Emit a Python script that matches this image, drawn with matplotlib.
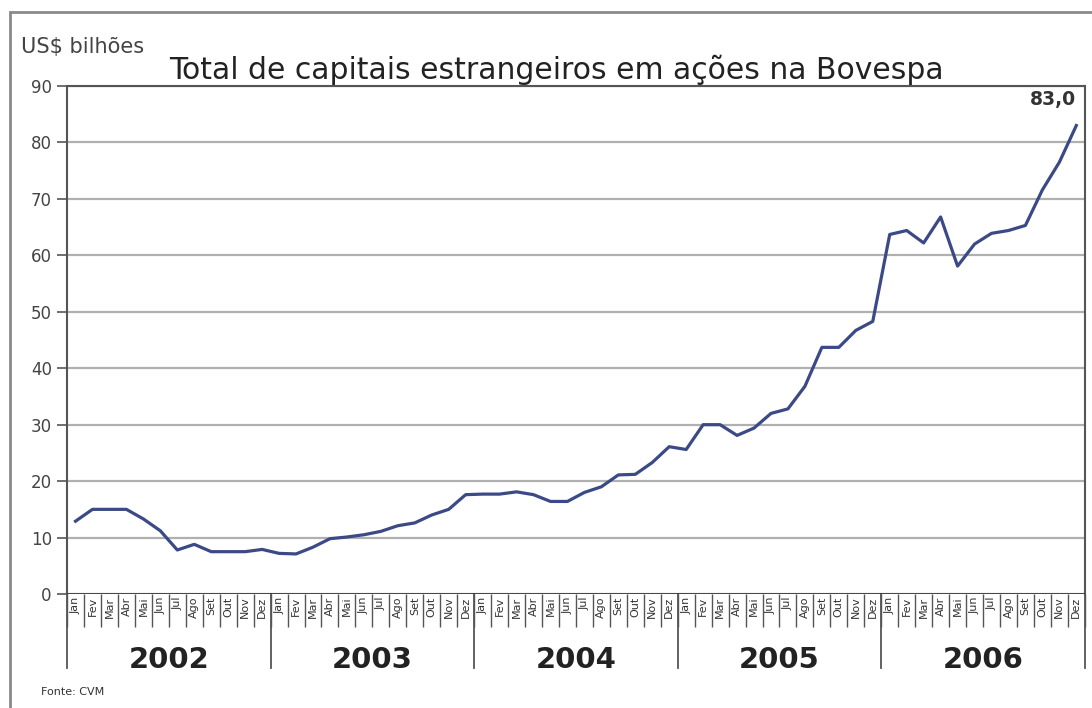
import matplotlib
matplotlib.use("Agg")
import matplotlib.pyplot as plt
import matplotlib.transforms as mtransforms
import numpy as np

years = ["2002", "2003", "2004", "2005", "2006"]
months = ["Jan", "Fev", "Mar", "Abr", "Mai", "Jun", "Jul", "Ago", "Set", "Out", "Nov", "Dez"]

v2002 = [12.9, 15.0, 15.0, 15.0, 13.3, 11.2, 7.8, 8.8, 7.5, 7.5, 7.5, 7.9]
v2003 = [7.2, 7.1, 8.3, 9.8, 10.1, 10.5, 11.1, 12.1, 12.6, 14.0, 15.0, 17.6]
v2004 = [17.7, 17.7, 18.1, 17.6, 16.4, 16.4, 18.0, 19.0, 21.1, 21.2, 23.3, 26.1]
v2005 = [25.6, 30.0, 30.0, 28.1, 29.4, 32.0, 32.8, 36.8, 43.7, 43.7, 46.7, 48.3]
v2006 = [63.7, 64.4, 62.2, 66.8, 58.1, 62.0, 63.9, 64.4, 65.3, 71.6, 76.5, 83.0]

values = v2002 + v2003 + v2004 + v2005 + v2006
n = len(values)
x = np.arange(n)

fig = plt.figure(figsize=(10.92, 7.08), dpi=100)
ax = fig.add_axes([0.0614, 0.161, 0.932, 0.7175])

# outer frame
fig.patches.append(plt.Rectangle((0.009, -0.01), 1.2, 0.993, transform=fig.transFigure,
                                 fill=False, edgecolor="#8a8a8a", linewidth=2.0))

ax.set_xlim(-0.5, n - 0.5)
ax.set_ylim(0, 90)
ax.set_yticks(np.arange(0, 91, 10))
ax.grid(axis="y", color="#b0b0b0", linewidth=1.6)
ax.set_axisbelow(True)

ax.spines["bottom"].set_visible(False)
for s in ["left", "right", "top"]:
    ax.spines[s].set_color("#555555")
    ax.spines[s].set_linewidth(1.5)

ax.tick_params(axis="y", length=7, width=1.2, color="#555555", labelsize=12,
               labelcolor="#444444", pad=4)

ax.plot(x, values, color="#3b4a86", linewidth=2.3, solid_joinstyle="round")

# x axis: month boundary ticks
bounds = np.arange(-0.5, n, 1.0)
ax.set_xticks(bounds)
ax.set_xticklabels([])
ax.tick_params(axis="x", length=24, width=1.0, color="#555555", direction="out")
ax.axhline(0, color="#333333", linewidth=1.2, zorder=3)

year_bounds = np.arange(-0.5, n + 0.1, 12.0)
trans = mtransforms.blended_transform_factory(ax.transData, ax.transAxes)
for yb in year_bounds:
    ax.plot([yb, yb], [0, -0.146], transform=trans, color="#555555", linewidth=1.3,
            clip_on=False)

for i in range(n):
    ax.text(x[i], -0.005, months[i % 12], transform=trans, rotation=90, ha="center",
            va="top", fontsize=8, color="#333333")

for k, yname in enumerate(years):
    ax.text(12 * k + 5.5, -0.13, yname, transform=trans, ha="center", va="center",
            fontsize=21, fontweight="bold", color="#222222")

ax.annotate("83,0", xy=(x[-1], values[-1]), xytext=(0, 12), textcoords="offset points",
            ha="right", va="bottom", fontsize=13.5, fontweight="bold", color="#333333")

fig.text(0.510, 0.901, "Total de capitais estrangeiros em ações na Bovespa",
         ha="center", va="center", fontsize=21.5, color="#222222")
fig.text(0.019, 0.934, "US$ bilhões", ha="left", va="center", fontsize=15, color="#444444")
fig.text(0.038, 0.022, "Fonte: CVM", ha="left", va="center", fontsize=8, color="#333333")

fig.savefig("out.png", dpi=100)
